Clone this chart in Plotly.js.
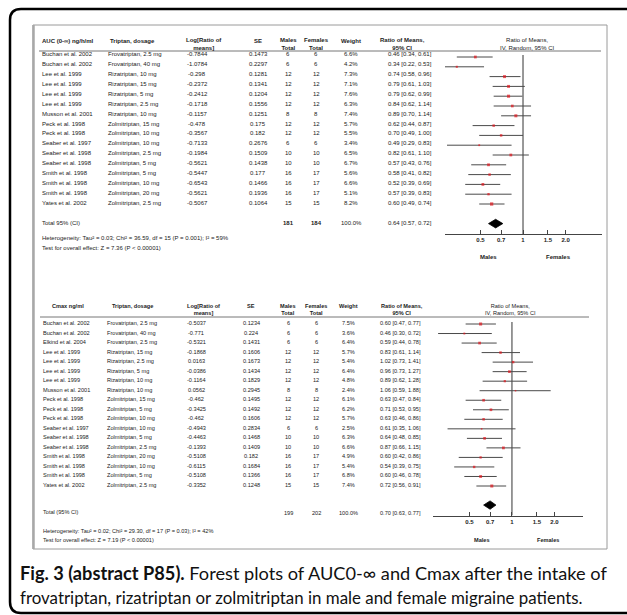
<!DOCTYPE html>
<html><head><meta charset="utf-8">
<script src="https://cdn.plot.ly/plotly-3.0.1.min.js"></script>
<style>html,body{margin:0;padding:0;background:#fff}#chart{width:627px;height:615px}</style>
</head><body><div id="chart"></div>
<script>
// ---------- AUC (top) ----------
const aucStudies = ["Buchan et al. 2002","Buchan et al. 2002","Lee et al. 1999","Lee et al. 1999","Lee et al. 1999","Lee et al. 1999","Musson et al. 2001","Peck et al. 1998","Peck et al. 1998","Seaber et al. 1997","Seaber et al. 1998","Seaber et al. 1998","Smith et al. 1998","Smith et al. 1998","Smith et al. 1998","Yates et al. 2002"];
const aucDosage = ["Frovatriptan, 2.5 mg","Frovatriptan, 40 mg","Rizatriptan, 10 mg","Rizatriptan, 15 mg","Rizatriptan, 5 mg","Rizatriptan, 2.5 mg","Rizatriptan, 10 mg","Zolmitriptan, 15 mg","Zolmitriptan, 10 mg","Zolmitriptan, 10 mg","Zolmitriptan, 2.5 mg","Zolmitriptan, 5 mg","Zolmitriptan, 5 mg","Zolmitriptan, 10 mg","Zolmitriptan, 20 mg","Zolmitriptan, 2.5 mg"];
const aucLogRatio = [-0.7844,-1.0784,-0.298,-0.2372,-0.2412,-0.1718,-0.1157,-0.478,-0.3567,-0.7133,-0.1984,-0.5621,-0.5447,-0.6543,-0.5621,-0.5067];
const aucSE = [0.1473,0.2297,0.1281,0.1341,0.1204,0.1556,0.1251,0.175,0.182,0.2676,0.1509,0.1438,0.177,0.1466,0.1936,0.1064];
const aucMales = [6,6,12,12,12,12,8,12,12,6,10,10,16,16,16,15];
const aucFemales = [6,6,12,12,12,12,8,12,12,6,10,10,17,17,17,15];
const aucWeight = [6.6,4.2,7.3,7.1,7.6,6.3,7.4,5.7,5.5,3.4,6.5,6.7,5.6,6.6,5.1,8.2];
const aucRatio = [0.46,0.34,0.74,0.79,0.79,0.84,0.89,0.62,0.70,0.49,0.82,0.57,0.58,0.52,0.57,0.60];
const aucLow = [0.34,0.22,0.58,0.61,0.62,0.62,0.70,0.44,0.49,0.29,0.61,0.43,0.41,0.39,0.39,0.49];
const aucHigh = [0.61,0.53,0.96,1.03,0.99,1.14,1.14,0.87,1.00,0.83,1.10,0.76,0.82,0.69,0.83,0.74];
const aucTotal = {males:181, females:184, weight:100.0, ratio:0.64, low:0.57, high:0.72};
const aucHetero = "Heterogeneity: Tau² = 0.03; Chi² = 36.59, df = 15 (P = 0.001); I² = 59%";
const aucTest = "Test for overall effect: Z = 7.36 (P < 0.00001)";

// ---------- Cmax (bottom) ----------
const cmaxStudies = ["Buchan et al. 2002","Buchan et al. 2002","Elkind et al. 2004","Lee et al. 1999","Lee et al. 1999","Lee et al. 1999","Lee et al. 1999","Musson et al. 2001","Peck et al. 1998","Peck et al. 1998","Peck et al. 1998","Seaber et al. 1997","Seaber et al. 1998","Seaber et al. 1998","Smith et al. 1998","Smith et al. 1998","Smith et al. 1998","Yates et al. 2002"];
const cmaxDosage = ["Frovatriptan, 2.5 mg","Frovatriptan, 40 mg","Frovatriptan, 2.5 mg","Rizatriptan, 15 mg","Rizatriptan, 2.5 mg","Rizatriptan, 5 mg","Rizatriptan, 10 mg","Rizatriptan, 10 mg","Zolmitriptan, 15 mg","Zolmitriptan, 5 mg","Zolmitriptan, 10 mg","Zolmitriptan, 10 mg","Zolmitriptan, 5 mg","Zolmitriptan, 2.5 mg","Zolmitriptan, 20 mg","Zolmitriptan, 10 mg","Zolmitriptan, 5 mg","Zolmitriptan, 2.5 mg"];
const cmaxLogRatio = [-0.5037,-0.771,-0.5321,-0.1868,0.0163,-0.0386,-0.1164,0.0562,-0.462,-0.3425,-0.462,-0.4943,-0.4463,-0.1393,-0.5108,-0.6115,-0.5108,-0.3352];
const cmaxSE = [0.1234,0.224,0.1431,0.1606,0.1673,0.1434,0.1829,0.2945,0.1495,0.1492,0.1606,0.2834,0.1468,0.1409,0.182,0.1684,0.1366,0.1248];
const cmaxMales = [6,6,6,12,12,12,12,8,12,12,12,6,10,10,16,16,16,15];
const cmaxFemales = [6,6,6,12,12,12,12,8,12,12,12,6,10,10,17,17,17,15];
const cmaxWeight = [7.5,3.6,6.4,5.7,5.4,6.4,4.8,2.4,6.1,6.2,5.7,2.5,6.3,6.6,4.9,5.4,6.8,7.4];
const cmaxRatio = [0.60,0.46,0.59,0.83,1.02,0.96,0.89,1.06,0.63,0.71,0.63,0.61,0.64,0.87,0.60,0.54,0.60,0.72];
const cmaxLow = [0.47,0.30,0.44,0.61,0.73,0.73,0.62,0.59,0.47,0.53,0.46,0.35,0.48,0.66,0.42,0.39,0.46,0.56];
const cmaxHigh = [0.77,0.72,0.78,1.14,1.41,1.27,1.28,1.88,0.84,0.95,0.86,1.06,0.85,1.15,0.86,0.75,0.78,0.91];
const cmaxTotal = {males:199, females:202, weight:100.0, ratio:0.70, low:0.63, high:0.77};
const cmaxHetero = "Heterogeneity: Tau² = 0.02; Chi² = 29.30, df = 17 (P = 0.03); I² = 42%";
const cmaxTest = "Test for overall effect: Z = 7.19 (P < 0.00001)";

// ---------- axis ticks ----------
const tickVals = [0.5, 0.7, 1, 1.5, 2];
const tickText = ["0.5", "0.7", "1", "1.5", "2.0"];

// ---------- helpers ----------
const W = 627, H = 615;
const FONT = "Liberation Sans, Arial, sans-serif";
const ann = [];
const shapes = [];
function T(x, y, text, o) {
  o = o || {};
  ann.push({xref:'paper', yref:'paper', x:x/W, y:1-y/H, text:text, showarrow:false,
    xanchor:o.anchor||'left', yanchor:'middle', align:o.align||(o.anchor==='center'?'center':'left'),
    borderpad:0, borderwidth:0,
    font:{family:o.family||FONT, size:o.size||6, color:o.color||'#222', weight:o.bold?'bold':'normal'}});
}
function L(x0,y0,x1,y1,color,width){
  shapes.push({type:'line', xref:'paper', yref:'paper', x0:x0/W, y0:1-y0/H, x1:x1/W, y1:1-y1/H, line:{color:color, width:width}});
}
const fmtCI = (r,l,h) => r.toFixed(2)+" ["+l.toFixed(2)+", "+h.toFixed(2)+"]";

function table(cfg) {
  const s = cfg.size;
  T(cfg.cTitle, cfg.h1, cfg.title, {bold:true, size:s, anchor:cfg.titleAnchor});
  T(cfg.cDoseH, cfg.h1, "Triptan, dosage", {bold:true, size:s, anchor:'center'});
  T(cfg.cLogH, cfg.hm, "Log[Ratio of<br>means]", {bold:true, size:s, anchor:'center'});
  T(cfg.cSE, cfg.h1, "SE", {bold:true, size:s, anchor:'center'});
  T(cfg.cMales, cfg.hm, "Males<br>Total", {bold:true, size:s, anchor:'center'});
  T(cfg.cFem, cfg.hm, "Females<br>Total", {bold:true, size:s, anchor:'center'});
  T(cfg.cWeight, cfg.h1, "Weight", {bold:true, size:s, anchor:'center'});
  T(cfg.cCIH, cfg.hm, "Ratio of Means,<br>95% CI", {bold:true, size:s, anchor:'center'});
  T(cfg.cForest, cfg.hm, "Ratio of Means,<br>IV, Random, 95% CI", {size:s, anchor:'center'});
  L(cfg.lineX0, cfg.lineY, cfg.lineX1, cfg.lineY, '#777', 1);
  cfg.studies.forEach((st, i) => {
    const y = cfg.r0 + cfg.dr * i;
    T(cfg.cStudy, y, st, {size:s});
    T(cfg.cDose, y, cfg.dosage[i], {size:s});
    T(cfg.cLog, y, String(cfg.logr[i]), {size:s, anchor:'center'});
    T(cfg.cSE, y, String(cfg.se[i]), {size:s, anchor:'center'});
    T(cfg.cMales, y, String(cfg.males[i]), {size:s, anchor:'center'});
    T(cfg.cFem, y, String(cfg.females[i]), {size:s, anchor:'center'});
    T(cfg.cWeight, y, cfg.weight[i].toFixed(1)+"%", {size:s, anchor:'center'});
    T(cfg.cCI, y, fmtCI(cfg.ratio[i], cfg.low[i], cfg.high[i]), {size:s});
  });
  const t = cfg.total;
  T(cfg.cStudy, cfg.totY, cfg.totLabel, {size:s});
  T(cfg.cMales, cfg.totNumY, String(t.males), {size:s, anchor:'center', bold:cfg.totBold});
  T(cfg.cFem, cfg.totNumY, String(t.females), {size:s, anchor:'center', bold:cfg.totBold});
  T(cfg.cWeight, cfg.totNumY, t.weight.toFixed(1)+"%", {size:s, anchor:'center'});
  T(cfg.cCI, cfg.totNumY, fmtCI(t.ratio, t.low, t.high), {size:s});
  T(cfg.cStudy, cfg.hetY, cfg.hetero, {size:s});
  T(cfg.cStudy, cfg.testY, cfg.test, {size:s});
  T(cfg.malesX, cfg.mfY, "Males", {bold:true, size:s, anchor:'center'});
  T(cfg.femalesX, cfg.mfY, "Females", {bold:true, size:s, anchor:'center'});
}

table({size:6, title:"AUC (0-∞) ng/h/ml", titleAnchor:'left', cTitle:42, h1:40.5, hm:43.8,
  cStudy:42, cDoseH:132, cDose:108, cLogH:204, cLog:197, cSE:258, cMales:288, cFem:316, cWeight:351,
  cCIH:402, cCI:388, cForest:527, lineX0:39, lineX1:601, lineY:51,
  r0:54, dr:9.93, studies:aucStudies, dosage:aucDosage, logr:aucLogRatio, se:aucSE,
  males:aucMales, females:aucFemales, weight:aucWeight, ratio:aucRatio, low:aucLow, high:aucHigh,
  total:aucTotal, totLabel:"Total 95% (CI)", totY:223, totNumY:223, totBold:true,
  hetero:aucHetero, test:aucTest, hetY:238, testY:248, malesX:488, femalesX:558, mfY:257});

table({size:5.6, title:"Cmax ng/ml", titleAnchor:'center', cTitle:68, h1:306.5, hm:309.8,
  cStudy:43, cDoseH:132, cDose:107, cLogH:203, cLog:196, cSE:251, cMales:288, cFem:316, cWeight:348,
  cCIH:402, cCI:380, cForest:510, lineX0:40, lineX1:589, lineY:317,
  r0:323, dr:9.53, studies:cmaxStudies, dosage:cmaxDosage, logr:cmaxLogRatio, se:cmaxSE,
  males:cmaxMales, females:cmaxFemales, weight:cmaxWeight, ratio:cmaxRatio, low:cmaxLow, high:cmaxHigh,
  total:cmaxTotal, totLabel:"Total (95% CI)", totY:512, totNumY:513, totBold:false,
  hetero:cmaxHetero, test:cmaxTest, hetY:531, testY:540, malesX:482, femalesX:548, mfY:540});

// caption
T(20, 573, "<b>Fig. 3 (abstract P85).</b> Forest plots of AUC0-∞ and Cmax after the intake of",
  {family:"Lato, Open Sans, sans-serif", size:18.2, color:'#111'});
T(20, 597, "frovatriptan, rizatriptan or zolmitriptan in male and female migraine patients.",
  {family:"Lato, Open Sans, sans-serif", size:16.9, color:'#111'});

// frames
const P = (x,y) => (x/W).toFixed(5)+","+(1-y/H).toFixed(5);
shapes.push({type:'path', xref:'paper', yref:'paper',
  path:"M"+P(700,9)+" L"+P(21,9)+" Q"+P(10,9)+" "+P(10,20)+" L"+P(10,602)+" Q"+P(10,613)+" "+P(21,613)+" L"+P(700,613),
  line:{color:'#000', width:2.5}});
shapes.push({type:'rect', xref:'paper', yref:'paper', x0:33/W, x1:607/W, y0:1-25/H, y1:1-549/H, line:{color:'#9a9a9a', width:1}});
L(33.5, 25, 33.5, 549, '#a8a8a8', 2.5);

// ---------- forest traces ----------
function forest(xa, ya, ratio, low, high, weight, total, totIdx) {
  const cx = [], cy = [];
  ratio.forEach((r,i) => { cx.push(low[i], high[i], null); cy.push(i, i, null); });
  return [
    {x:[1,1], y:[-0.2, totIdx+1.06], xaxis:xa, yaxis:ya, mode:'lines', line:{color:'#555', width:1.2}, hoverinfo:'skip'},
    {x:cx, y:cy, xaxis:xa, yaxis:ya, mode:'lines', line:{color:'#4a4a4a', width:1}, hoverinfo:'skip'},
    {x:ratio, y:ratio.map((r,i)=>i), xaxis:xa, yaxis:ya, mode:'markers',
      marker:{symbol:'square', color:'#e0141b', size:weight.map(w=>0.8+0.3*w), line:{width:0}}, hoverinfo:'skip'},
    {x:[total.low, total.ratio, total.high, total.ratio, total.low], y:[totIdx, totIdx-0.44, totIdx, totIdx+0.44, totIdx],
      xaxis:xa, yaxis:ya, mode:'lines', fill:'toself', fillcolor:'#000', line:{color:'#000', width:0.8}, hoverinfo:'skip'}
  ];
}
const traces = [].concat(
  forest('x','y', aucRatio, aucLow, aucHigh, aucWeight, aucTotal, 17),
  forest('x2','y2', cmaxRatio, cmaxLow, cmaxHigh, cmaxWeight, cmaxTotal, 19)
);

const xax = (dom, rng, anchor) => ({type:'log', domain:dom, range:rng, anchor:anchor,
  showline:true, linecolor:'#444', linewidth:1, ticks:'inside', ticklen:4, tickcolor:'#444', tickwidth:1,
  tickvals:tickVals, ticktext:tickText, showgrid:false, zeroline:false, fixedrange:true,
  tickfont:{family:FONT, size:6, color:'#222', weight:'bold'}});
const yax = (dom, rng) => ({domain:dom, range:rng, visible:false, showgrid:false, zeroline:false, fixedrange:true});

const layout = {
  width:W, height:H, margin:{l:0,r:0,t:0,b:0}, paper_bgcolor:'#fff', plot_bgcolor:'rgba(0,0,0,0)',
  showlegend:false,
  xaxis: xax([445/W, 602/W], [-0.552, 0.559], 'y'),
  yaxis: yax([1-234/H, 1-48/H], [(234-57)/9.8, (48-57)/9.8]),
  xaxis2: xax([433/W, 583/W], [-0.559, 0.503], 'y2'),
  yaxis2: yax([1-516/H, 1-318/H], [(516-324)/9.53, (318-324)/9.53]),
  annotations: ann, shapes: shapes
};
Plotly.newPlot('chart', traces, layout, {staticPlot:true, displayModeBar:false});
</script>
</body></html>
